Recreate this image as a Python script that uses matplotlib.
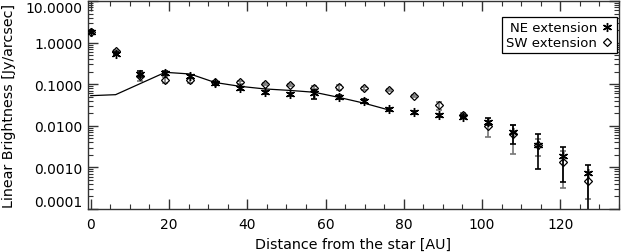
import matplotlib
matplotlib.use("Agg")
import matplotlib.pyplot as plt
import numpy as np
from matplotlib.ticker import LogLocator, FixedLocator, MultipleLocator, FuncFormatter
from matplotlib.lines import Line2D

# ---- data ----
dist = [0, 6.35, 12.7, 19.05, 25.4, 31.75, 38.1, 44.45, 50.8, 57.15, 63.5,
        69.85, 76.2, 82.55, 88.9, 95.25, 101.6, 107.95, 114.3, 120.65, 127.0]
ne_val = [1.83, 0.54, 0.176, 0.182, 0.155, 0.105, 0.080, 0.064, 0.057, 0.060, 0.050,
          0.039, 0.0248, 0.021, 0.018, 0.0165, 0.0125, 0.0070, 0.0035, 0.0019, 0.00075]
ne_err_lo = [0.15, 0.05, 0.03, 0.02, 0.015, 0.01, 0.008, 0.006, 0.006, 0.016, 0.006,
             0.004, 0.002, 0.0015, 0.0015, 0.0015, 0.002, 0.0033, 0.0026, 0.00145, 0.0007]
ne_err_hi = [0.15, 0.05, 0.03, 0.02, 0.015, 0.01, 0.008, 0.006, 0.006, 0.012, 0.006,
             0.004, 0.002, 0.0015, 0.0015, 0.0015, 0.003, 0.0036, 0.0029, 0.0012, 0.0004]
sw_val = [1.80, 0.63, 0.155, 0.126, 0.124, 0.110, 0.110, 0.100, 0.097, 0.083, 0.084,
          0.080, 0.073, 0.052, 0.032, 0.018, 0.0098, 0.0063, 0.0034, 0.00132, 0.00047]
sw_err_lo = [0.10, 0.05, 0.035, 0.02, 0.015, 0.01, 0.01, 0.006, 0.006, 0.008, 0.012,
             0.006, 0.005, 0.004, 0.008, 0.002, 0.0043, 0.0042, 0.0015, 0.001, 0.0003]
sw_err_hi = [0.10, 0.05, 0.035, 0.02, 0.015, 0.01, 0.01, 0.006, 0.006, 0.008, 0.012,
             0.006, 0.005, 0.004, 0.006, 0.002, 0.003, 0.004, 0.0015, 0.0012, 0.0003]
model_x = [0, 6.35, 19.05, 25.4, 31.75, 38.1, 44.45, 50.8, 57.15, 63.5, 69.85, 76.2]
model_y = [0.053, 0.056, 0.193, 0.176, 0.110, 0.089, 0.077, 0.071, 0.064, 0.048, 0.035, 0.024]
ytick_vals = [0.0001, 0.001, 0.01, 0.1, 1.0, 10.0]
xtick_vals = [0, 20, 40, 60, 80, 100, 120]

plt.rcParams['font.family'] = ['DejaVu Sans']
fig = plt.figure(figsize=(6.21, 2.53), dpi=100)
ax = fig.add_axes([88/621, 43/253, 531/621, 208/253])

ax.plot(model_x, model_y, color='black', lw=0.9, zorder=3)

ast = (6, 2, 0)
ax.errorbar(dist, sw_val, yerr=[sw_err_lo, sw_err_hi], fmt='none', ecolor='#777777',
            elinewidth=1.2, capsize=2.3, capthick=1.2, zorder=2)
ax.errorbar(dist, ne_val, yerr=[ne_err_lo, ne_err_hi], fmt='none', ecolor='black',
            elinewidth=1.2, capsize=2.3, capthick=1.2, zorder=2)
ax.plot(dist, ne_val, linestyle='none', marker=ast, markersize=6.5, mec='black',
        mew=1.0, color='black', zorder=4)
ax.plot(dist, sw_val, linestyle='none', marker='D', markersize=4.5, mfc='none',
        mec='black', mew=0.9, zorder=4)

ax.set_yscale('log')
ax.set_ylim(1e-4, 10)
ax.set_xlim(-0.7, 135)
ax.yaxis.set_major_locator(FixedLocator(ytick_vals))
ax.yaxis.set_minor_locator(LogLocator(base=10, subs=np.arange(2, 10)))
ax.yaxis.set_major_formatter(FuncFormatter(lambda v, p: f"{v:.4f}"))
ax.xaxis.set_major_locator(FixedLocator(xtick_vals))
ax.xaxis.set_minor_locator(MultipleLocator(5))

for s in ax.spines.values():
    s.set_color('#333333')
    s.set_linewidth(1.0)
ax.tick_params(which='both', direction='in', top=True, right=True, color='#333333',
               labelsize=10)
ax.tick_params(which='major', length=7, width=1.0)
ax.tick_params(which='minor', length=3.5, width=0.8)
ax.tick_params(axis='y', which='both', pad=4)
ax.tick_params(axis='x', which='both', pad=6)

# keep the extreme y labels inside the plot height, as in the reference
yticks = ax.yaxis.get_major_ticks()
yticks[0].label1.set_va('bottom')
yticks[-1].label1.set_va('top')

ax.set_xlabel('Distance from the star [AU]', fontsize=10.3, labelpad=4)
ax.set_ylabel('Linear Brightness [Jy/arcsec]', fontsize=10.3, labelpad=7)

h_ne = Line2D([], [], linestyle='none', marker=ast, markersize=6.5, mec='black', mew=1.0)
h_sw = Line2D([], [], linestyle='none', marker='D', markersize=4.5, mfc='none', mec='black', mew=0.9)
leg = ax.legend([h_ne, h_sw], ['NE extension', 'SW extension'], loc='upper right',
                bbox_to_anchor=(0.9957, 0.922), markerfirst=False, fancybox=False,
                framealpha=1, edgecolor='black', fontsize=9.5, handlelength=0.8,
                handletextpad=0.4, borderpad=0.3, labelspacing=0.15, borderaxespad=0)
leg.get_frame().set_linewidth(0.9)

fig.savefig('out.png', dpi=100)
